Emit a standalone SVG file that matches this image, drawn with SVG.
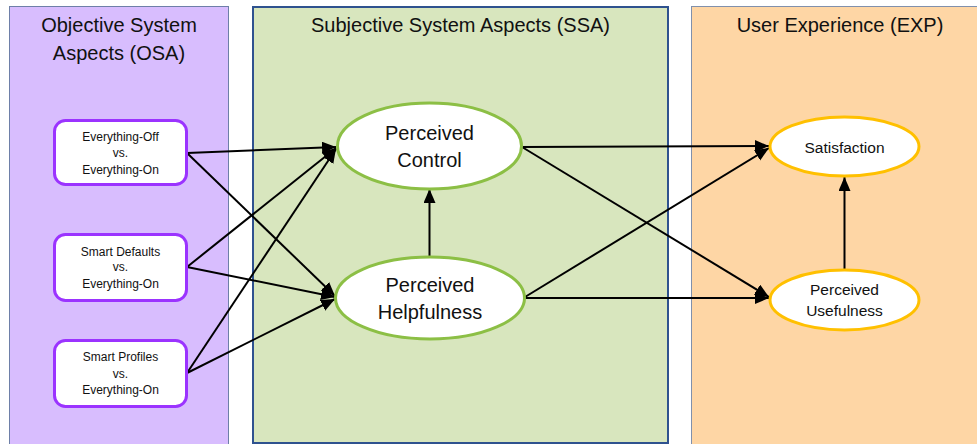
<svg xmlns="http://www.w3.org/2000/svg" width="977" height="444" viewBox="0 0 977 444">
<defs>
<style>
text{font-family:"Liberation Sans",Arial,sans-serif;fill:#111;text-anchor:middle}
.title{font-size:20px}
.big{font-size:20px}
.mid{font-size:15.5px}
.small{font-size:12px}
.box{fill:#fff;stroke:#9B33FF;stroke-width:3}
.gr{fill:#fff;stroke:#8CBF45;stroke-width:3}
.gold{fill:#fff;stroke:#FFC000;stroke-width:3}
.arr{stroke:#000;stroke-width:2;fill:none;marker-end:url(#ah)}
</style>
<marker id="ah" markerUnits="userSpaceOnUse" markerWidth="16" markerHeight="14" refX="14" refY="6" orient="auto">
<path d="M0,0 L14,6 L0,12 Z" fill="#000"/>
</marker>
</defs>
<g id="panel-osa">
<rect x="9.5" y="6.5" width="219" height="450" fill="#D8BDFE" stroke="#6E7FA8" stroke-width="1"/>
<text class="title" x="119" y="32">Objective System</text>
<text class="title" x="119" y="60">Aspects (OSA)</text>
</g>
<g id="panel-ssa">
<rect x="253" y="7" width="415" height="436" fill="#D8E6BE" stroke="#2F528F" stroke-width="2"/>
<text class="title" x="460.5" y="32">Subjective System Aspects (SSA)</text>
</g>
<g id="panel-exp">
<rect x="691.5" y="6.5" width="300" height="450" fill="#FED6A5" stroke="#8090AC" stroke-width="1"/>
<text class="title" x="840" y="32">User Experience (EXP)</text>
</g>
<g id="connectors">
<line class="arr" x1="187" y1="153" x2="336" y2="147"/>
<line class="arr" x1="187" y1="153" x2="335" y2="296"/>
<line class="arr" x1="187" y1="267" x2="336" y2="148"/>
<line class="arr" x1="187" y1="267" x2="335" y2="297"/>
<line class="arr" x1="187" y1="373" x2="336" y2="149"/>
<line class="arr" x1="187" y1="373" x2="335" y2="299"/>
<line class="arr" x1="429.5" y1="257" x2="429.5" y2="189"/>
<line class="arr" x1="522" y1="147" x2="769" y2="146"/>
<line class="arr" x1="522" y1="147" x2="769" y2="297"/>
<line class="arr" x1="525" y1="297" x2="769" y2="148"/>
<line class="arr" x1="525" y1="298" x2="769" y2="298"/>
<line class="arr" x1="844.5" y1="270" x2="844.5" y2="177"/>
</g>
<g id="osa-everything-off">
<rect class="box" x="54.5" y="120.5" width="132" height="64" rx="11"/>
<text class="small" x="120.5" y="141">Everything-Off</text>
<text class="small" x="120.5" y="157">vs.</text>
<text class="small" x="120.5" y="174">Everything-On</text>
</g>
<g id="osa-smart-defaults">
<rect class="box" x="54.5" y="234.5" width="132" height="66" rx="11"/>
<text class="small" x="120.5" y="256">Smart Defaults</text>
<text class="small" x="120.5" y="271">vs.</text>
<text class="small" x="120.5" y="288">Everything-On</text>
</g>
<g id="osa-smart-profiles">
<rect class="box" x="54.5" y="340.5" width="132" height="66" rx="11"/>
<text class="small" x="120.5" y="361">Smart Profiles</text>
<text class="small" x="120.5" y="378">vs.</text>
<text class="small" x="120.5" y="394">Everything-On</text>
</g>
<g id="ssa-perceived-control">
<ellipse class="gr" cx="429.5" cy="146" rx="92" ry="43"/>
<text class="big" x="429.5" y="140">Perceived</text>
<text class="big" x="429.5" y="167">Control</text>
</g>
<g id="ssa-perceived-helpfulness">
<ellipse class="gr" cx="430" cy="298" rx="94.5" ry="41"/>
<text class="big" x="430" y="292">Perceived</text>
<text class="big" x="430" y="319">Helpfulness</text>
</g>
<g id="exp-satisfaction">
<ellipse class="gold" cx="844.5" cy="146.5" rx="74.5" ry="29.5"/>
<text class="mid" x="844.5" y="152.5">Satisfaction</text>
</g>
<g id="exp-perceived-usefulness">
<ellipse class="gold" cx="844.5" cy="300" rx="74.5" ry="30"/>
<text class="mid" x="844.5" y="294.5">Perceived</text>
<text class="mid" x="844.5" y="315.5">Usefulness</text>
</g>
</svg>
